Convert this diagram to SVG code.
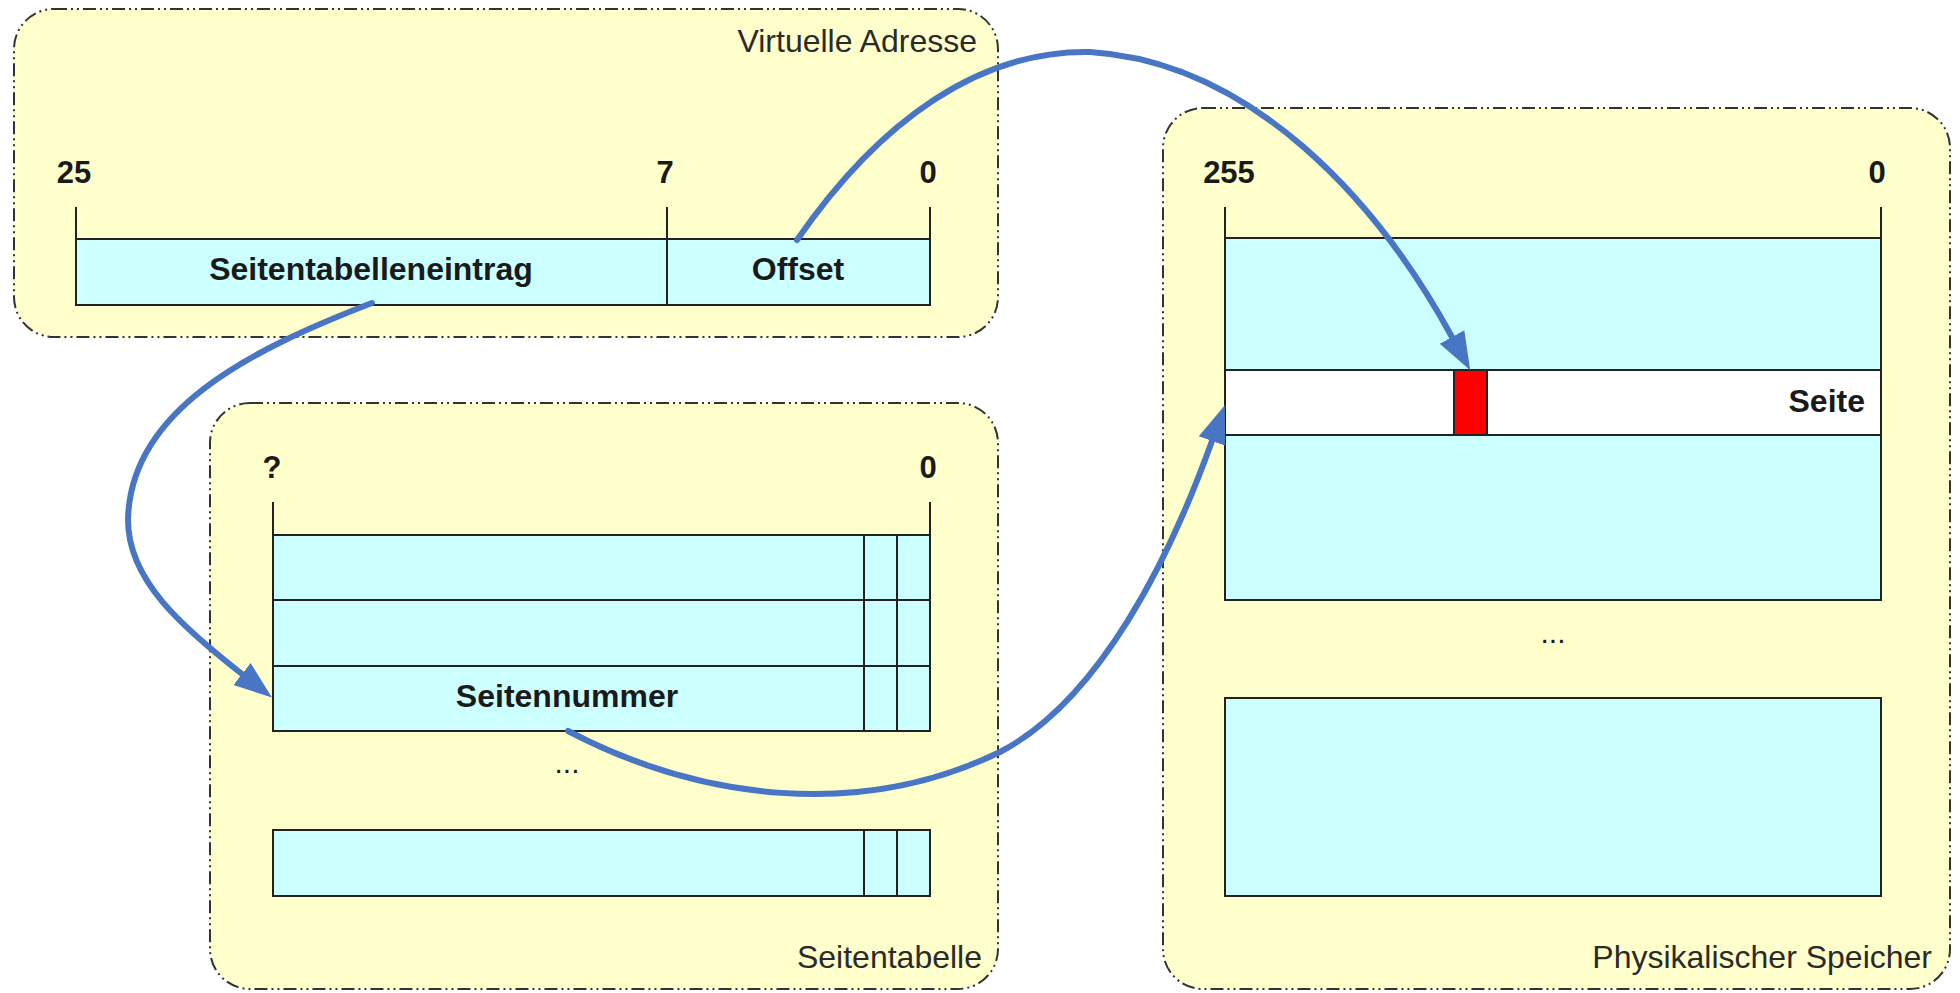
<svg xmlns="http://www.w3.org/2000/svg" width="1960" height="993" viewBox="0 0 1960 993">
  <style>
    .panel { fill: #ffffcc; stroke: #333; stroke-width: 2; stroke-dasharray: 13 4 2 4 2 4; }
    .cell { fill: #ccffff; stroke: #222; stroke-width: 2; }
    .blank { fill: #ffffff; stroke: #222; stroke-width: 2; }
    .mark { fill: #ff0000; stroke: #222; stroke-width: 2; }
    .tick { stroke: #222; stroke-width: 2; fill: none; }
    .num { font-family: "Liberation Sans", Arial, sans-serif; font-weight: bold; font-size: 31px; fill: #1a1a1a; text-anchor: middle; }
    .lbl { font-family: "Liberation Sans", Arial, sans-serif; font-weight: bold; font-size: 32px; fill: #1a1a1a; }
    .title { font-family: "Liberation Sans", Arial, sans-serif; font-size: 32px; fill: #2a2a2a; text-anchor: end; }
    .dots { font-family: "Liberation Sans", Arial, sans-serif; font-size: 30px; fill: #1a1a1a; text-anchor: middle; }
    .flow { fill: none; stroke: #4876c4; stroke-width: 6; stroke-linecap: round; }
  </style>
  <defs>
    <marker id="head" markerUnits="userSpaceOnUse" markerWidth="42" markerHeight="32" refX="0" refY="14" orient="auto" viewBox="0 0 42 28">
      <path d="M0,0 L38,14 L0,28 z" fill="#4876c4"/>
    </marker>
  </defs>

  <!-- Virtual address -->
  <g id="virtuelle-adresse">
    <rect class="panel" x="14" y="9" width="984" height="328" rx="40" ry="40"/>
    <text class="title" x="977" y="52">Virtuelle Adresse</text>
    <line class="tick" x1="76" y1="207" x2="76" y2="239"/>
    <line class="tick" x1="667" y1="207" x2="667" y2="239"/>
    <line class="tick" x1="930" y1="207" x2="930" y2="239"/>
    <text class="num" x="74" y="183">25</text>
    <text class="num" x="665" y="183">7</text>
    <text class="num" x="928" y="183">0</text>
    <rect class="cell" x="76" y="239" width="591" height="66"/>
    <rect class="cell" x="667" y="239" width="263" height="66"/>
    <text class="lbl" x="371" y="280" text-anchor="middle">Seitentabelleneintrag</text>
    <text class="lbl" x="798" y="280" text-anchor="middle">Offset</text>
  </g>

  <!-- Page table -->
  <g id="seitentabelle">
    <rect class="panel" x="210" y="403" width="788" height="586" rx="40" ry="40"/>
    <text class="title" x="982" y="968">Seitentabelle</text>
    <line class="tick" x1="273" y1="502" x2="273" y2="535"/>
    <line class="tick" x1="930" y1="502" x2="930" y2="535"/>
    <text class="num" x="272" y="478">?</text>
    <text class="num" x="928" y="478">0</text>
    <g id="pt-rows">
      <rect class="cell" x="273" y="535" width="657" height="65"/>
      <rect class="cell" x="273" y="600" width="657" height="66"/>
      <rect class="cell" x="273" y="666" width="657" height="65"/>
      <rect class="cell" x="273" y="830" width="657" height="66"/>
      <line class="tick" x1="864" y1="535" x2="864" y2="731"/>
      <line class="tick" x1="897" y1="535" x2="897" y2="731"/>
      <line class="tick" x1="864" y1="830" x2="864" y2="896"/>
      <line class="tick" x1="897" y1="830" x2="897" y2="896"/>
    </g>
    <text class="lbl" x="567" y="707" text-anchor="middle">Seitennummer</text>
    <text class="dots" x="567" y="773">...</text>
  </g>

  <!-- Physical memory -->
  <g id="physikalischer-speicher">
    <rect class="panel" x="1163" y="108" width="787" height="881" rx="40" ry="40"/>
    <text class="title" x="1932" y="968">Physikalischer Speicher</text>
    <line class="tick" x1="1225" y1="207" x2="1225" y2="238"/>
    <line class="tick" x1="1881" y1="207" x2="1881" y2="238"/>
    <text class="num" x="1229" y="183">255</text>
    <text class="num" x="1877" y="183">0</text>
    <rect class="cell" x="1225" y="238" width="656" height="132"/>
    <rect class="blank" x="1225" y="370" width="656" height="65"/>
    <rect class="cell" x="1225" y="435" width="656" height="165"/>
    <rect class="cell" x="1225" y="698" width="656" height="198"/>
    <rect class="mark" x="1454" y="370" width="33" height="65"/>
    <text class="lbl" x="1865" y="412" text-anchor="end">Seite</text>
    <text class="dots" x="1553" y="643">...</text>
  </g>

  <!-- Connectors -->
  <g id="connectors">
    <path class="flow" d="M797,240 C880,120 980,50 1090,52 C1250,62 1376,198 1452,337" marker-end="url(#head)"/>
    <path class="flow" d="M372,303 C250,350 130,410 128,520 C128,580 182,627 242,674" marker-end="url(#head)"/>
    <path class="flow" d="M568,731 C700,800 860,820 1000,752 C1100,700 1170,558 1212,441" marker-end="url(#head)"/>
  </g>
</svg>
